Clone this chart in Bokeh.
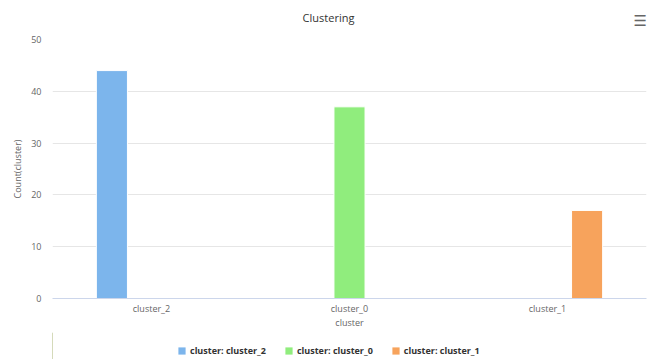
from bokeh.plotting import figure
from bokeh.models import FactorRange, Legend, LegendItem, ColumnDataSource, Label, Range1d
from bokeh.layouts import column
from bokeh.transform import dodge
from bokeh.embed import file_html
from bokeh.resources import INLINE

categories = ["cluster_2", "cluster_0", "cluster_1"]
series_names = ["cluster: cluster_2", "cluster: cluster_0", "cluster: cluster_1"]
series_values = [
    [44, 0, 0],
    [0, 37, 0],
    [0, 0, 17],
]
colors = ["#7cb5ec", "#90ed7d", "#f7a35c"]
offsets = [-0.2, 0.0, 0.2]
y_ticks = [0, 10, 20, 30, 40, 50]
title_text = "Clustering"

FONT = "Open Sans"


def bare_fig(h):
    f = figure(width=648, height=h, output_backend="svg", toolbar_location=None,
               x_axis_location=None, y_axis_location=None, title=None,
               x_range=Range1d(0, 1), y_range=Range1d(0, 1),
               min_border=0, min_border_left=0, min_border_right=0,
               min_border_top=0, min_border_bottom=0)
    f.outline_line_color = None
    f.xgrid.visible = False
    f.ygrid.visible = False
    f.background_fill_color = "white"
    f.border_fill_color = "white"
    return f


# --- header (title + menu icon); frames are aligned with the main plot (left = 52px)
top = bare_fig(31)
top.add_layout(Label(x=276, y=14, x_units="screen", y_units="screen", text=title_text,
                     text_font=FONT, text_font_size="11px", text_color="#333333",
                     text_align="center", text_baseline="middle"))
top.add_layout(Label(x=581, y=10.5, x_units="screen", y_units="screen", text="\u2630",
                     text_font="DejaVu Sans", text_font_size="15px", text_color="#666666",
                     text_align="left", text_baseline="middle"))

# --- main chart
p = figure(frame_width=594, frame_height=259, output_backend="svg", toolbar_location=None,
           x_range=FactorRange(factors=categories, range_padding=0), title=None,
           y_range=(0, 50), min_border_left=52, min_border_right=2,
           min_border_top=8, min_border_bottom=34)
p.outline_line_color = None
p.background_fill_color = "white"
p.border_fill_color = "white"

for vals, col, off in zip(series_values, colors, offsets):
    xs = [c for c, v in zip(categories, vals) if v]
    ys = [v for v in vals if v]
    src = ColumnDataSource(dict(x=xs, top=ys))
    p.vbar(x=dodge("x", off, range=p.x_range), top="top", bottom=0, width=0.157,
           source=src, fill_color=col, line_color="white", line_width=1)

p.yaxis.ticker = y_ticks
p.yaxis.axis_line_color = None
p.yaxis.major_tick_line_color = None
p.yaxis.minor_tick_line_color = None
p.yaxis.major_tick_out = 0
p.yaxis.major_label_standoff = 11
p.yaxis.axis_label = "Count(cluster)"
p.yaxis.axis_label_standoff = 4
p.yaxis.axis_label_text_font = FONT
p.yaxis.axis_label_text_font_size = "9px"
p.yaxis.axis_label_text_font_style = "normal"
p.yaxis.axis_label_text_color = "#666666"
p.yaxis.major_label_text_font = FONT
p.yaxis.major_label_text_font_size = "9px"
p.yaxis.major_label_text_color = "#666666"

p.xaxis.axis_line_color = "#ccd6eb"
p.xaxis.major_tick_line_color = None
p.xaxis.minor_tick_line_color = None
p.xaxis.major_tick_out = 0
p.xaxis.axis_label = "cluster"
p.xaxis.axis_label_text_font = FONT
p.xaxis.axis_label_text_font_size = "9px"
p.xaxis.axis_label_text_font_style = "normal"
p.xaxis.axis_label_text_color = "#666666"
p.xaxis.major_label_text_font = FONT
p.xaxis.major_label_text_font_size = "9px"
p.xaxis.major_label_text_color = "#666666"
p.xaxis.major_label_standoff = 3
p.xaxis.axis_label_standoff = -2

p.xgrid.grid_line_color = None
p.ygrid.grid_line_color = "#e6e6e6"

# --- legend strip (sample glyphs sit outside the visible range; only the legend shows)
leg = bare_fig(27)
items = []
for name, col in zip(series_names, colors):
    r = leg.vbar(x=[-5], top=[1], bottom=0, width=0.5, fill_color=col, line_color=None)
    items.append(LegendItem(label=name, renderers=[r]))
legend = Legend(items=items, orientation="horizontal", location=(125, 2),
                label_text_font=FONT, label_text_font_size="9px",
                label_text_font_style="bold", label_text_color="#333333",
                glyph_width=9, glyph_height=9, label_height=12, spacing=18, label_standoff=4,
                border_line_color=None, background_fill_alpha=0, padding=0, margin=0)
leg.add_layout(legend, "center")

layout = column(top, p, leg, spacing=0)
open("out.html", "w").write(file_html(layout, INLINE))
